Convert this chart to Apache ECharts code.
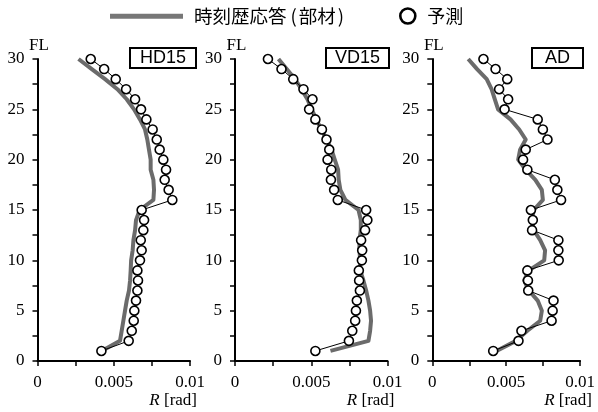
<!DOCTYPE html>
<html><head><meta charset="utf-8">
<script src="https://cdn.jsdelivr.net/npm/echarts@6/dist/echarts.min.js"></script>
<style>html,body{margin:0;padding:0;background:#fff}#c{width:598px;height:412px}</style>
</head><body><div id="c"></div>
<script>
// Floor levels (top to bottom)
const FL = [30,29,28,27,26,25,24,23,22,21,20,19,18,17,16,15,14,13,12,11,10,9,8,7,6,5,4,3,2,1];
const panelNames = ['HD15','VD15','AD'];
const xTickLabels = ['0','0.005','0.01'];
// HD15
const hdResp = [0.00269,0.00356,0.00443,0.00524,0.00585,0.00633,0.00672,0.00705,0.00720,0.00731,0.00742,0.00742,0.00760,0.00764,0.00760,0.00670,0.00646,0.00640,0.00629,0.00624,0.00614,0.00611,0.00607,0.00600,0.00585,0.00574,0.00563,0.00552,0.00541,0.00421];
const hdPred = [0.00349,0.00437,0.00513,0.00581,0.00640,0.00679,0.00714,0.00755,0.00782,0.00801,0.00825,0.00843,0.00834,0.00860,0.00884,0.00683,0.00699,0.00694,0.00677,0.00683,0.00672,0.00655,0.00659,0.00655,0.00646,0.00635,0.00631,0.00618,0.00598,0.00419];
// VD15
const vdResp = [0.00285,0.00339,0.00393,0.00436,0.00475,0.00503,0.00533,0.00566,0.00600,0.00633,0.00654,0.00676,0.00680,0.00691,0.00724,0.00810,0.00825,0.00825,0.00816,0.00816,0.00821,0.00821,0.00842,0.00860,0.00875,0.00886,0.00892,0.00886,0.00875,0.00626];
const vdPred = [0.00216,0.00305,0.00382,0.00449,0.00508,0.00486,0.00527,0.00570,0.00600,0.00618,0.00607,0.00631,0.00629,0.00650,0.00674,0.00860,0.00868,0.00853,0.00827,0.00834,0.00832,0.00812,0.00814,0.00819,0.00799,0.00793,0.00788,0.00769,0.00747,0.00527];
// AD
const adResp = [0.00243,0.00303,0.00368,0.00401,0.00423,0.00445,0.00529,0.00588,0.00632,0.00594,0.00581,0.00632,0.00697,0.00741,0.00748,0.00686,0.00675,0.00686,0.00730,0.00763,0.00757,0.00654,0.00621,0.00654,0.00713,0.00741,0.00730,0.00643,0.00566,0.00434];
const adPred = [0.00346,0.00428,0.00507,0.00452,0.00513,0.00489,0.00713,0.00748,0.00779,0.00632,0.00614,0.00643,0.00829,0.00846,0.00871,0.00667,0.00680,0.00675,0.00853,0.00853,0.00855,0.00643,0.00647,0.00649,0.00820,0.00814,0.00807,0.00603,0.00583,0.00412];

const respSets = [hdResp, vdResp, adResp];
const predSets = [hdPred, vdPred, adPred];
const RESP = '時刻歴応答(部材)';
const PRED = '予測';

const serif = 'Liberation Serif';
const cjk = 'Noto Sans CJK JP';
const gridLefts = [37.5, 235, 432.3];
const gridW = 152.5;
const GRAY = '#6b6b6b';

const grids = [], xAxes = [], yAxes = [], series = [], titles = [], graphics = [];
gridLefts.forEach((L, i) => {
  grids.push({left: L, top: 59, width: gridW, height: 302, containLabel: false});
  xAxes.push({
    type: 'value', gridIndex: i, min: 0, max: 0.01, interval: 0.0025,
    axisLine: {lineStyle: {color: '#000', width: 2}},
    axisTick: {length: 5, lineStyle: {color: '#000', width: 1.5}},
    splitLine: {show: false},
    axisLabel: {
      color: '#000', fontFamily: serif, fontSize: 17, margin: 13,
      formatter: v => {
        if (Math.abs(v) < 1e-9) return xTickLabels[0];
        if (Math.abs(v - 0.005) < 1e-9) return xTickLabels[1];
        if (Math.abs(v - 0.01) < 1e-9) return xTickLabels[2];
        return '';
      }
    }
  });
  yAxes.push({
    type: 'value', gridIndex: i, min: 0, max: 30, interval: 2.5,
    name: 'FL', nameLocation: 'end', nameGap: 13,
    nameTextStyle: {color: '#000', fontFamily: serif, fontSize: 17, align: 'center', verticalAlign: 'middle', padding: [0, 0, 0, 3]},
    axisLine: {lineStyle: {color: '#000', width: 2}},
    axisTick: {length: 5, lineStyle: {color: '#000', width: 1.5}},
    splitLine: {show: false},
    axisLabel: {
      color: '#000', fontFamily: serif, fontSize: 17, margin: 13,
      formatter: v => (Math.abs(v % 5) < 1e-9 ? String(v) : '')
    }
  });
  series.push({
    name: RESP, type: 'line', xAxisIndex: i, yAxisIndex: i,
    data: respSets[i].map((x, k) => [x, FL[k]]),
    symbol: 'none', z: 2,
    lineStyle: {color: GRAY, width: 4, join: 'round'},
    itemStyle: {color: GRAY}
  });
  series.push({
    name: PRED, type: 'line', xAxisIndex: i, yAxisIndex: i,
    data: predSets[i].map((x, k) => [x, FL[k]]),
    symbol: 'circle', symbolSize: 9, z: 3,
    lineStyle: {color: '#000', width: 1},
    itemStyle: {color: '#fff', borderColor: '#000', borderWidth: 1.6}
  });
  graphics.push({
    type: 'text', x: L + gridW + 7, y: 401,
    style: {
      text: '{i|R} [rad]', align: 'right', verticalAlign: 'middle',
      fill: '#000', font: '17px "Liberation Serif"',
      rich: {i: {fontStyle: 'italic', fontFamily: serif, fontSize: 17, fill: '#000'}}
    }
  });
});

const boxLefts = [130, 326, 532];
const boxPad = [10, 9, 13];
panelNames.forEach((t, i) => {
  titles.push({
    text: t, left: boxLefts[i], top: 48,
    borderColor: '#000', borderWidth: 2,
    padding: [1, boxPad[i], 0, boxPad[i]],
    textStyle: {fontFamily: 'Liberation Sans', fontSize: 18, fontWeight: 'normal', color: '#000', lineHeight: 19}
  });
});

const chart = echarts.init(document.getElementById('c'), null, {renderer: 'canvas'});
chart.setOption({
  animation: false,
  backgroundColor: '#fff',
  title: titles,
  grid: grids, xAxis: xAxes, yAxis: yAxes, series: series,
  legend: [
    {
      data: [{name: RESP, icon: 'rect', itemStyle: {color: '#777'}}],
      left: 110, top: 7, padding: 0, itemWidth: 73, itemHeight: 5,
      formatter: n => '{t|時刻歴応答}{a|(}{t|部材}{b|)}',
      textStyle: {
        fontFamily: cjk, fontSize: 18.5, color: '#000', padding: [0, 0, 0, 6],
        rich: {
          t: {fontFamily: cjk, fontSize: 18.5, color: '#000'},
          a: {fontFamily: cjk, fontSize: 18.5, color: '#000', padding: [0, 2, 0, 4]},
          b: {fontFamily: cjk, fontSize: 18.5, color: '#000', padding: [0, 4, 0, 2]}
        }
      },
      selectedMode: false
    },
    {
      data: [{name: PRED, icon: 'circle', itemStyle: {color: '#fff', borderColor: '#000', borderWidth: 2.6}}],
      left: 399, top: 7, padding: 0, itemWidth: 15, itemHeight: 15,
      textStyle: {fontFamily: cjk, fontSize: 18, color: '#000', padding: [0, 0, 0, 7]},
      selectedMode: false
    }
  ],
  graphic: graphics
});
</script></body></html>
